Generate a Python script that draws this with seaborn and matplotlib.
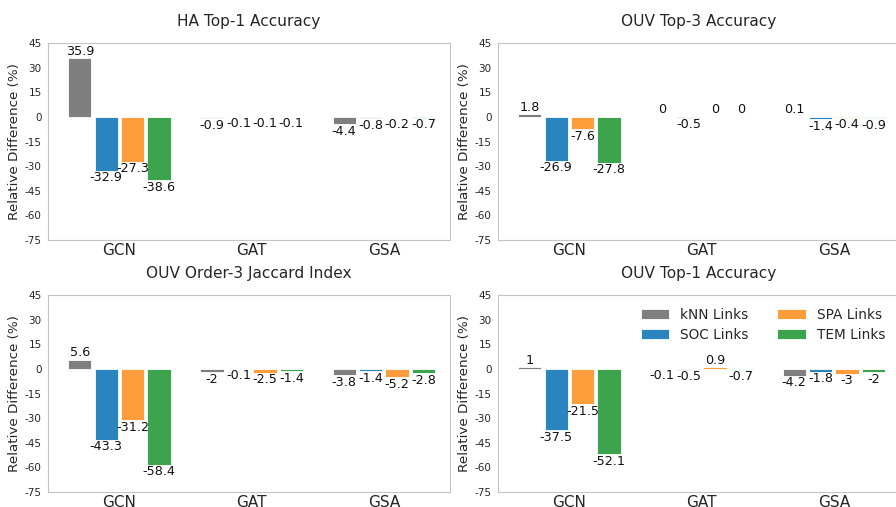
import pandas as pd
import matplotlib
matplotlib.use("Agg")
import matplotlib.pyplot as plt
import seaborn as sns

models = ["GCN", "GAT", "GSA"]
links = ["kNN Links", "SOC Links", "SPA Links", "TEM Links"]
colors = ["#7f7f7f", "#2a84c0", "#ff9d3c", "#3ca44c"]

titles = ["HA Top-1 Accuracy", "OUV Top-3 Accuracy",
          "OUV Order-3 Jaccard Index", "OUV Top-1 Accuracy"]

# values per link type, ordered GCN, GAT, GSA
ha_top1 = {
    "kNN Links": [35.9, -0.9, -4.4],
    "SOC Links": [-32.9, -0.1, -0.8],
    "SPA Links": [-27.3, -0.1, -0.2],
    "TEM Links": [-38.6, -0.1, -0.7],
}
ouv_top3 = {
    "kNN Links": [1.8, 0, 0.1],
    "SOC Links": [-26.9, -0.5, -1.4],
    "SPA Links": [-7.6, 0, -0.4],
    "TEM Links": [-27.8, 0, -0.9],
}
ouv_jaccard = {
    "kNN Links": [5.6, -2, -3.8],
    "SOC Links": [-43.3, -0.1, -1.4],
    "SPA Links": [-31.2, -2.5, -5.2],
    "TEM Links": [-58.4, -1.4, -2.8],
}
ouv_top1 = {
    "kNN Links": [1, -0.1, -4.2],
    "SOC Links": [-37.5, -0.5, -1.8],
    "SPA Links": [-21.5, 0.9, -3],
    "TEM Links": [-52.1, -0.7, -2],
}

yticks = [-75, -60, -45, -30, -15, 0, 15, 30, 45]


def to_long(d):
    rows = []
    for link in links:
        for m, v in zip(models, d[link]):
            rows.append({"model": m, "link": link, "value": v})
    return pd.DataFrame(rows)


sns.set_style("white")
plt.rcParams["font.family"] = ["DejaVu Sans"]
plt.rcParams["axes.unicode_minus"] = False

fig = plt.figure(figsize=(8.96, 5.07), dpi=100)
W, H = 896, 507
boxes = [(48, 43), (498, 43), (48, 295), (498, 295)]
datasets = [ha_top1, ouv_top3, ouv_jaccard, ouv_top1]

for i, ((px, py), data, title) in enumerate(zip(boxes, datasets, titles)):
    ax = fig.add_axes([px / W, (H - py - 197) / H, 402 / W, 197 / H])
    df = to_long(data)
    sns.barplot(data=df, x="model", y="value", hue="link", order=models,
                hue_order=links, palette=colors, saturation=1, errorbar=None,
                gap=0.12, edgecolor="white", linewidth=0.6, ax=ax,
                legend=(i == 3))
    for cont, link in zip(ax.containers, links):
        ax.bar_label(cont, labels=[f"{v:g}" for v in data[link]],
                     fontsize=9.2, padding=0.3, color="#111111")
    ax.set_ylim(-75, 45)
    ax.set_yticks(yticks)
    ax.set_xlim(-0.54, 2.5)
    ax.set_xlabel("")
    ax.set_ylabel("Relative Difference (%)", fontsize=9.7, labelpad=3)
    ax.set_title(title, fontsize=11.1, pad=12)
    ax.tick_params(axis="x", labelsize=11, length=2, color="#cccccc", pad=0.5)
    ax.tick_params(axis="y", labelsize=7.5, length=3, color="#bbbbbb", pad=1.5)
    for s in ax.spines.values():
        s.set_color("#c4c4c4")
        s.set_linewidth(0.8)
    if i == 3:
        ax.legend(loc="upper right", bbox_to_anchor=(0.99, 0.99), ncol=2,
                  frameon=False, fontsize=9.8, handlelength=2.1,
                  handleheight=0.75, handletextpad=0.8, columnspacing=2.1,
                  labelspacing=0.45, borderaxespad=0.4)

plt.savefig("out.png", dpi=100)
plt.close()
